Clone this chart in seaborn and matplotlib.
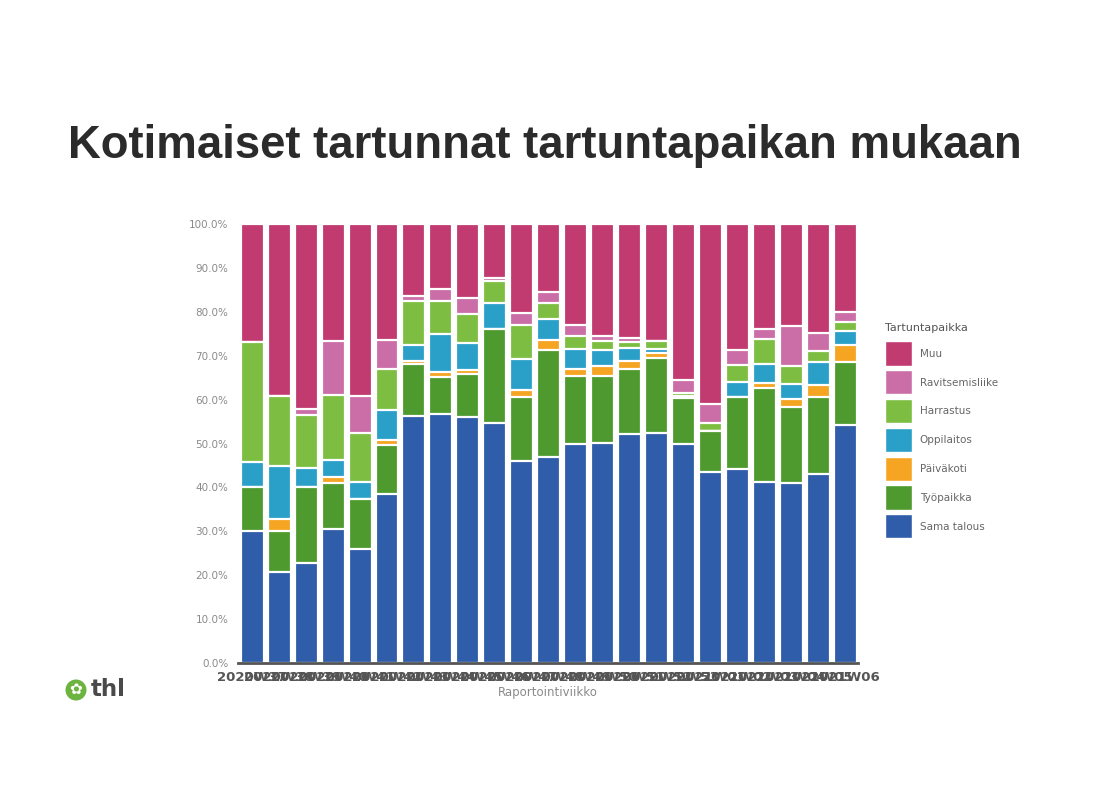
import numpy as np
import pandas as pd
import matplotlib
matplotlib.use("Agg")
import matplotlib.pyplot as plt
import matplotlib.patches as mpatches
from matplotlib.legend_handler import HandlerPatch
import seaborn as sns

weeks = ["2020W37", "2020W38", "2020W39", "2020W40", "2020W41", "2020W42", "2020W43",
         "2020W44", "2020W45", "2020W46", "2020W47", "2020W48", "2020W49", "2020W50",
         "2020W51", "2020W52", "2020W53", "2021W01", "2021W02", "2021W03", "2021W04",
         "2021W05", "2021W06"]

sama_talous = [30.0, 20.7, 22.7, 30.5, 26.0, 38.5, 56.3, 56.7, 56.0, 54.6, 45.9, 47.0,
               49.9, 50.2, 52.2, 52.5, 49.9, 43.6, 44.3, 41.3, 40.9, 43.0, 54.2]
tyopaikka = [10.0, 9.4, 17.5, 10.6, 11.4, 11.2, 11.8, 8.5, 9.8, 21.5, 14.6, 24.3,
             15.5, 15.2, 14.7, 16.9, 10.4, 9.3, 16.2, 21.3, 17.5, 17.7, 14.3]
paivakoti = [0.0, 2.7, 0.0, 1.3, 0.0, 1.1, 0.7, 1.2, 0.9, 0.0, 1.7, 2.3,
             1.6, 2.3, 2.0, 1.3, 0.0, 0.0, 0.0, 1.2, 1.7, 2.6, 3.9]
oppilaitos = [5.7, 12.1, 4.3, 3.8, 3.8, 6.8, 3.7, 8.5, 6.1, 6.0, 7.0, 4.8,
              4.5, 3.6, 2.9, 0.8, 0.5, 0.0, 3.6, 4.3, 3.5, 5.2, 3.3]
harrastus = [27.5, 15.9, 12.0, 14.8, 11.3, 9.4, 10.0, 7.6, 6.7, 4.9, 7.8, 3.5,
             3.1, 2.1, 1.4, 1.8, 0.8, 1.7, 3.8, 5.6, 4.1, 2.6, 1.9]
ravitsemisliike = [0.0, 0.0, 1.4, 12.4, 8.4, 6.6, 1.0, 2.7, 3.6, 0.8, 2.7, 2.5,
                   2.4, 1.1, 0.8, 0.0, 2.8, 4.3, 3.4, 2.3, 9.1, 4.0, 2.3]
muu = [26.8, 39.2, 42.1, 26.6, 39.1, 26.4, 16.5, 14.8, 16.9, 12.2, 20.3, 15.6,
       23.0, 25.5, 26.0, 26.7, 35.6, 41.1, 28.7, 24.0, 23.2, 24.9, 20.1]

categories = ["Sama talous", "Työpaikka", "Päiväkoti", "Oppilaitos", "Harrastus",
              "Ravitsemisliike", "Muu"]
colors = ["#2F5DA9", "#4E9A2F", "#F6A523", "#2AA0C8", "#7DBE42", "#CB6EA8", "#C13A70"]

df = pd.DataFrame({
    "week": weeks,
    "Sama talous": sama_talous,
    "Työpaikka": tyopaikka,
    "Päiväkoti": paivakoti,
    "Oppilaitos": oppilaitos,
    "Harrastus": harrastus,
    "Ravitsemisliike": ravitsemisliike,
    "Muu": muu,
})
# normalise each week to 100 %
tot = df[categories].sum(axis=1)
for c in categories:
    df[c] = df[c] / tot * 100
cum = df[categories].cumsum(axis=1)

sns.set_theme(style="white")
plt.rcParams["font.family"] = ["DejaVu Sans"]

fig = plt.figure(figsize=(11.17, 7.9), dpi=100)
ax = fig.add_axes([238 / 1117, 1 - 663 / 790, (858 - 238) / 1117, (663 - 224) / 790])

# draw cumulative bars from top category to bottom
for c, col in reversed(list(zip(categories, colors))):
    sns.barplot(x=df["week"], y=cum[c], color=col, ax=ax, width=0.85,
                edgecolor="white", linewidth=1.6, saturation=1, order=weeks)

ax.set_xlim(-0.53, 22.48)
ax.set_ylim(0, 100)
ax.set_yticks(np.arange(0, 101, 10))
ax.set_yticklabels([f"{v:.1f}%" for v in np.arange(0, 101, 10)], color="#8a8a8a",
                   fontsize=7.5)
ax.tick_params(axis="y", length=3, color="#cccccc", pad=4)
ax.tick_params(axis="x", length=4, color="#555555", width=1.2, pad=2)
ax.set_xticks(range(len(weeks)))
ax.set_xticklabels(weeks, fontsize=9.5, fontweight="bold", color="#555555")
ax.set_xlabel("Raportointiviikko", fontsize=8.5, color="#8a8a8a", labelpad=1)
ax.set_ylabel("")
for s in ["top", "right", "left"]:
    ax.spines[s].set_visible(False)
ax.spines["bottom"].set_color("#555555")
ax.spines["bottom"].set_linewidth(2)


def big_square(legend, orig_handle, xdescent, ydescent, width, height, fontsize):
    h = 17.5
    return mpatches.Rectangle((-xdescent, -ydescent + height / 2 - h / 2), width, h)


handles = [mpatches.Patch(facecolor=col, edgecolor="white", label=c)
           for c, col in reversed(list(zip(categories, colors)))]
leg = fig.legend(handles=handles, title="Tartuntapaikka", loc="upper left",
                 bbox_to_anchor=(880 / 1117, 1 - 317.5 / 790), frameon=False,
                 fontsize=7.5, title_fontsize=8, handlelength=2.6, handleheight=2.0,
                 labelspacing=1.22, handletextpad=0.7, borderpad=0, alignment="left",
                 handler_map={mpatches.Patch: HandlerPatch(patch_func=big_square)})
for t in leg.get_texts():
    t.set_color("#666666")
leg.get_title().set_color("#555555")

fig.text(68 / 1117, 1 - 146 / 790, "Kotimaiset tartunnat tartuntapaikan mukaan",
         fontsize=32.8, fontweight="bold", color="#2b2b2b", family="Liberation Sans",
         va="center", ha="left")

# THL logo
fig.add_artist(mpatches.Ellipse((76 / 1117, 1 - 690 / 790), 21 / 1117, 21 / 790,
                                transform=fig.transFigure, facecolor="#6DB33F",
                                edgecolor="none"))
fig.text(76 / 1117, 1 - 689.5 / 790, "✿", fontsize=11, color="white",
         ha="center", va="center")
fig.text(91 / 1117, 1 - 690 / 790, "thl", fontsize=16.5, fontweight="bold",
         color="#4a4a4a", ha="left", va="center")

fig.savefig("out.png", dpi=100, facecolor="white")
